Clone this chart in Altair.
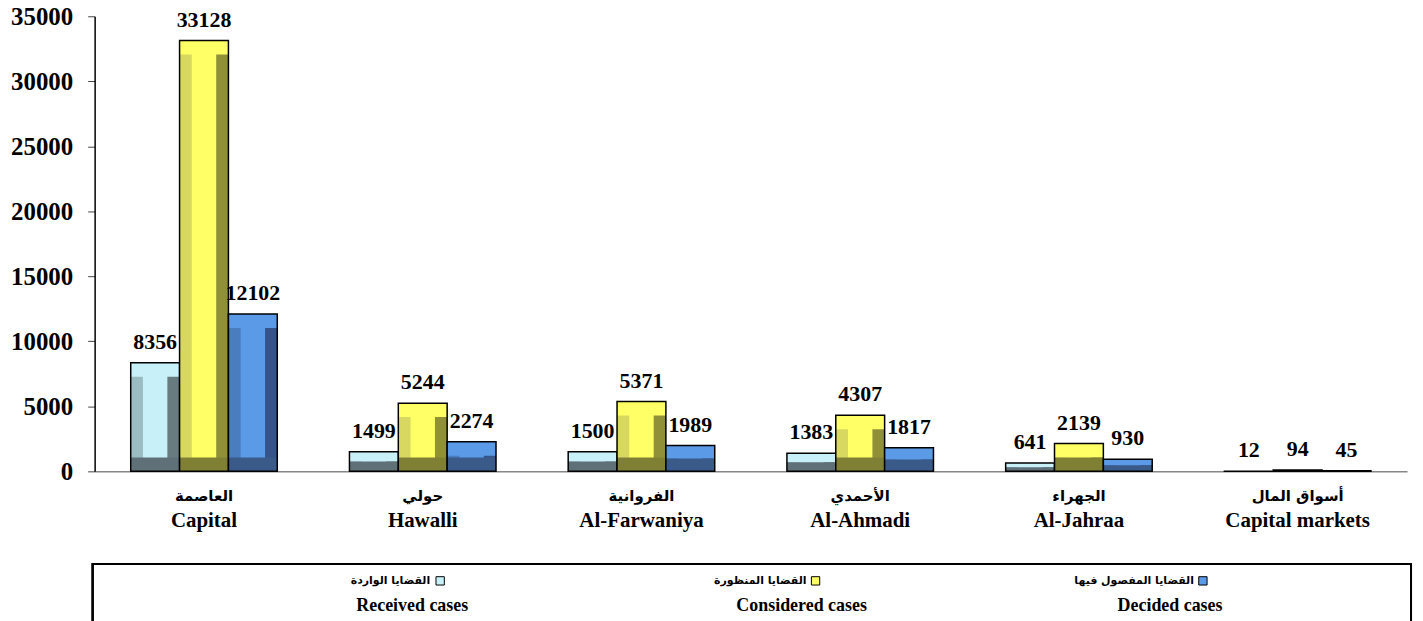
import altair as alt
import pandas as pd

# ---------------- data ----------------
cats_ar = ["العاصمة", "حولي", "الفروانية", "الأحمدي", "الجهراء", "أسواق المال"]
cats_en = ["Capital", "Hawalli", "Al-Farwaniya", "Al-Ahmadi", "Al-Jahraa", "Capital markets"]
series_en = ["Received cases", "Considered cases", "Decided cases"]
series_ar = ["القضايا الواردة", "القضايا المنظورة", "القضايا المفصول فيها"]
received = [8356, 1499, 1500, 1383, 641, 12]
considered = [33128, 5244, 5371, 4307, 2139, 94]
decided = [12102, 2274, 1989, 1817, 930, 45]
y_ticks = [0, 5000, 10000, 15000, 20000, 25000, 30000, 35000]

# ---------------- styles ----------------
W, H = 1318, 457
Y_MAX = 35000
FONT = "Liberation Serif, Times New Roman, serif"
AR_FONT = "DejaVu Sans, Noto Sans, sans-serif"
face = ["#c8f0f8", "#ffff66", "#5b9ae6"]
left_c = ["#9cbcc4", "#d8d860", "#4a7cc0"]
right_c = ["#687c80", "#909038", "#34548a"]
bottom_c = ["#5f7078", "#808034", "#3a5a8a"]
BEVEL_PX = 14
bevel_units = BEVEL_PX * Y_MAX / H
# legend layout (pixels relative to the plot's top-left corner)
leg_ar_right = [337, 715, 1104]
leg_sw_x = [347, 724, 1113]
leg_en_x = [319, 710, 1080]

cats = list(cats_en)
rows = []
for vals, s in zip([received, considered, decided], series_en):
    for c, v in zip(cats, vals):
        rows.append({"cat": c, "series": s, "value": v})
df = pd.DataFrame(rows)
cat_df = pd.DataFrame({"cat": cats, "ar": cats_ar, "en": cats_en})

slot_domain = []
for s in series_en:
    slot_domain += [s + "|L", s + "|a", s + "|b", s + "|R"]

x_scale = alt.Scale(domain=cats, paddingInner=0.33, paddingOuter=0.165)
x_enc = alt.X(
    "cat:N",
    sort=cats,
    scale=x_scale,
    axis=alt.Axis(
        title=None,
        labels=False,
        ticks=False,
        domainColor="#888888",
        domainWidth=1.5,
    ),
)
xo_enc = alt.XOffset("series:N", sort=series_en,
                     scale=alt.Scale(type="band", domain=series_en, paddingInner=0, paddingOuter=0))
xo_slot = alt.XOffset("slot:N", sort=slot_domain,
                      scale=alt.Scale(type="band", domain=slot_domain, paddingInner=0, paddingOuter=0))
y_scale = alt.Scale(domain=[0, Y_MAX], nice=False, zero=True)
y_enc = alt.Y(
    "value:Q",
    scale=y_scale,
    axis=alt.Axis(
        title=None,
        values=y_ticks,
        format="d",
        grid=False,
        labelFont=FONT,
        labelFontWeight="bold",
        labelFontSize=25,
        labelColor="black",
        labelPadding=15,
        tickSize=7,
        tickColor="#444444",
        domainColor="black",
        domainWidth=1.5,
    ),
)

base = alt.Chart(df).transform_calculate(
    bev=f"min(datum.value / 2, {bevel_units})",
    top_lo="datum.value - min(datum.value / 2, %f)" % bevel_units,
)

layers = []
for i, s in enumerate(series_en):
    b = base.transform_filter(alt.datum.series == s)
    layers.append(b.mark_bar(color=face[i]).encode(x=x_enc, xOffset=xo_enc, y=y_enc))
    layers.append(
        b.transform_calculate(slot="datum.series + '|L'")
        .mark_bar(color=left_c[i])
        .encode(x=x_enc, xOffset=xo_slot, y=alt.Y("value:Q", scale=y_scale))
    )
    layers.append(
        b.transform_calculate(slot="datum.series + '|R'")
        .mark_bar(color=right_c[i])
        .encode(x=x_enc, xOffset=xo_slot, y=alt.Y("value:Q", scale=y_scale))
    )
    layers.append(
        b.mark_bar(color=face[i]).encode(
            x=x_enc, xOffset=xo_enc, y=alt.Y("value:Q", scale=y_scale), y2="top_lo:Q"
        )
    )
    layers.append(
        b.mark_bar(color=bottom_c[i]).encode(
            x=x_enc, xOffset=xo_enc, y=alt.Y("bev:Q", scale=y_scale), y2=alt.datum(0)
        )
    )
    layers.append(
        b.mark_bar(fill="white", fillOpacity=0, stroke="black", strokeWidth=1.5).encode(
            x=x_enc, xOffset=xo_enc, y=y_enc
        )
    )

labels = base.mark_text(
    font=FONT, fontWeight="bold", fontSize=22, color="black", baseline="alphabetic", dy=-14
).encode(x=x_enc, xOffset=xo_enc, y=y_enc, text=alt.Text("value:Q", format="d"))
layers.append(labels)

# category labels (Arabic + English)
cat_ar_txt = alt.Chart(cat_df).mark_text(
    font=AR_FONT, fontWeight="bold", fontSize=15, color="black", baseline="middle"
).encode(x=alt.X("cat:N", sort=cats, scale=x_scale), y=alt.value(482), text="ar:N")
cat_en_txt = alt.Chart(cat_df).mark_text(
    font=FONT, fontWeight="bold", fontSize=21, color="black", baseline="middle"
).encode(x=alt.X("cat:N", sort=cats, scale=x_scale), y=alt.value(507), text="en:N")

# ---------------- custom legend ----------------
leg_df = pd.DataFrame(
    {
        "ar": series_ar,
        "en": series_en,
        "face": face,
        "ax": leg_ar_right,
        "sx": leg_sw_x,
        "ex": leg_en_x,
    }
)
leg = alt.Chart(leg_df)
box = leg.mark_rect(fill="white", fillOpacity=0, stroke="black", strokeWidth=2).encode(
    x=alt.value(-2), x2=alt.value(1322), y=alt.value(550), y2=alt.value(700)
)
leg_ar = leg.mark_text(
    font=AR_FONT, fontWeight="bold", fontSize=11, color="black", baseline="middle", align="right"
).encode(x=alt.X("ax:Q", scale=None, axis=None), y=alt.value(567), text="ar:N")
leg_sw = leg.mark_square(size=70, opacity=1, stroke="black", strokeWidth=1).encode(
    x=alt.X("sx:Q", scale=None, axis=None), y=alt.value(567), color=alt.Color("face:N", scale=None)
)
leg_en = leg.mark_text(
    font=FONT, fontWeight="bold", fontSize=18, color="black", baseline="middle"
).encode(x=alt.X("ex:Q", scale=None, axis=None), y=alt.value(592), text="en:N")

chart = (
    alt.layer(*layers, cat_ar_txt, cat_en_txt, box, leg_ar, leg_sw, leg_en)
    .resolve_scale(xOffset="independent")
    .properties(
        width=W,
        height=H,
        autosize=alt.AutoSizeParams(type="none"),
        padding={"left": 87, "top": 7, "right": 8, "bottom": 150},
        background="white",
    )
    .configure_view(stroke=None)
)

chart.save("out.html", embed_options={"renderer": "svg", "actions": False})
